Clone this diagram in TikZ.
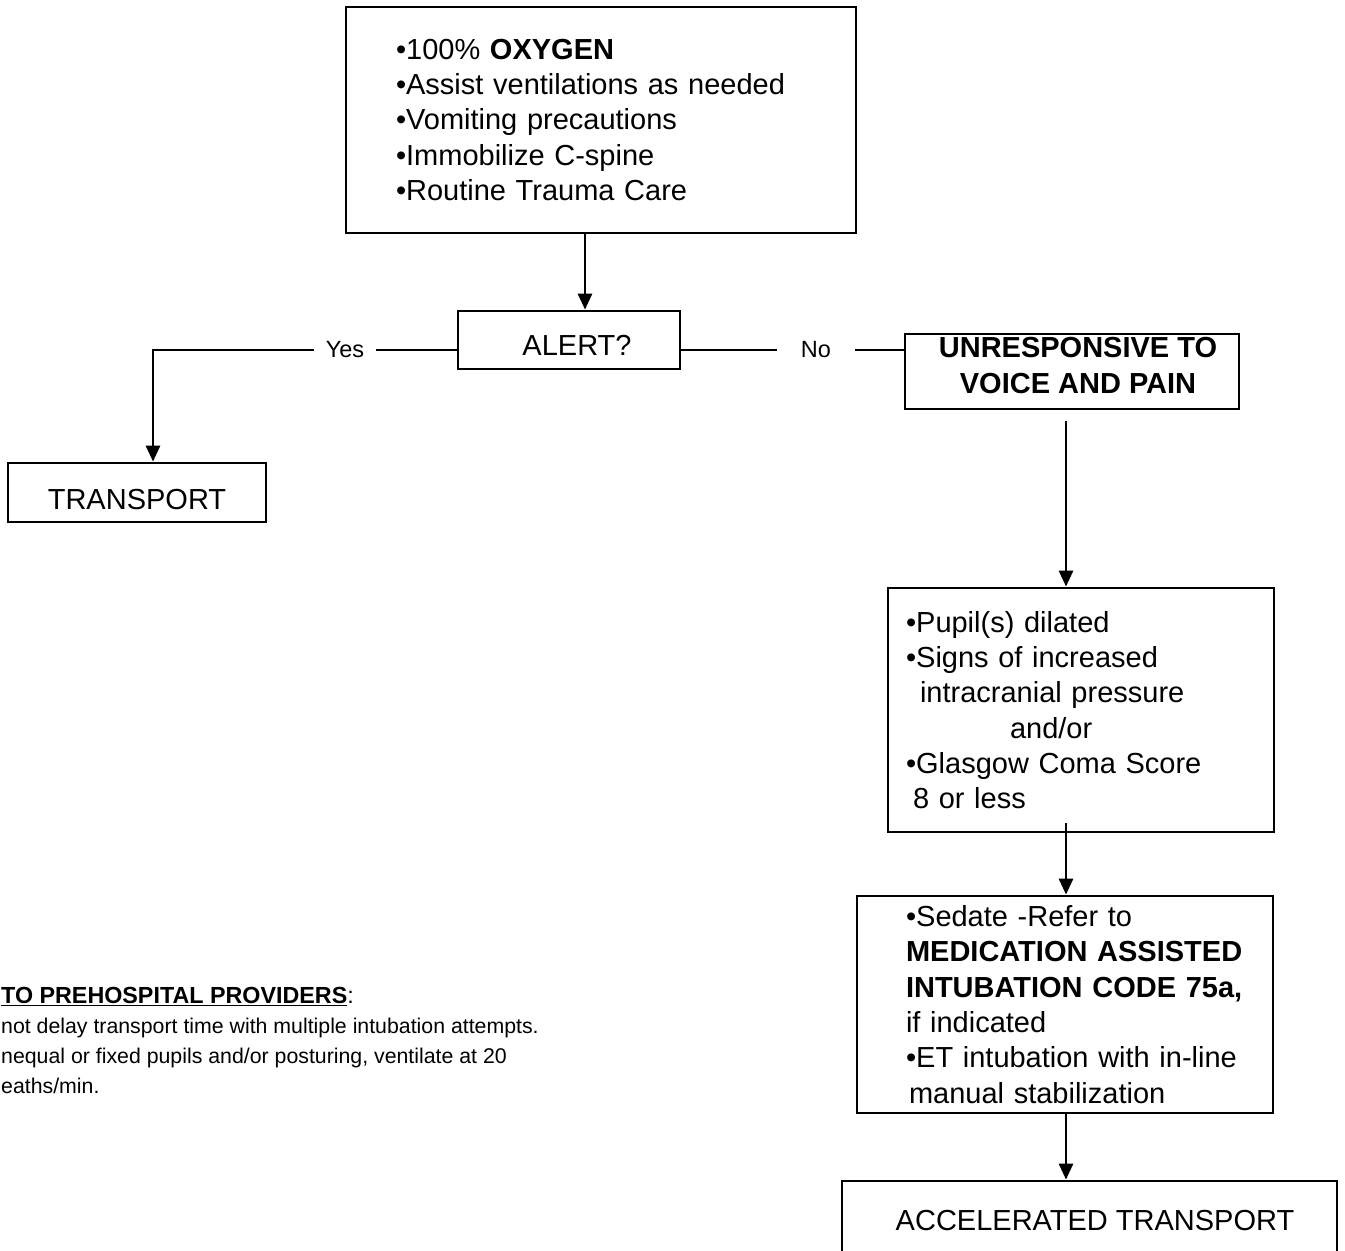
\documentclass[tikz,border=0pt]{standalone}
\usepackage{fontspec}
\setmainfont{Liberation Sans}
\usetikzlibrary{arrows.meta}
\begin{document}
\begin{tikzpicture}[x=1pt,y=-1pt,
  box/.style={draw, line width=2.8pt, inner sep=0pt,
    font=\fontsize{29}{35.3}\selectfont},
  arr/.style={line width=2.8pt, -{Triangle[length=16pt,width=14pt]}},
  link/.style={line width=2.8pt},
  lab/.style={inner ysep=0pt, font=\fontsize{23.5}{28}\selectfont},
  notetext/.style={anchor=north west, inner sep=0pt, align=left,
    font=\fontsize{21.3}{30}\selectfont},
]
\useasboundingbox (0,0) rectangle (1345,1251);
\clip (0,0) rectangle (1345,1251);
\fill[white] (0,0) rectangle (1345,1251);

% boxes
\node[box, minimum height=226pt, text width=510pt, align=left] (top) at (601,120)
  {\leftskip=50pt •100\% \textbf{OXYGEN}\\
   •Assist ventilations as needed\\
   •Vomiting precautions\\
   •Immobilize C-spine\\
   •Routine Trauma Care\par};

\node[box, minimum width=222pt, minimum height=58pt,
  text height=31pt, text depth=0pt] (alert) at (569,340)
  {\hspace*{16pt}ALERT?};

\node[box, minimum width=334pt, minimum height=75pt,
  label={[inner sep=0pt, yshift=6pt, xshift=6pt, align=center,
    font=\fontsize{29}{35.3}\selectfont\bfseries]center:UNRESPONSIVE TO\\VOICE AND PAIN}]
  (unresp) at (1072,371.5) {};

\node[box, minimum width=258pt, minimum height=59pt,
  text height=34pt, text depth=0pt] (transport) at (137,492.5)
  {TRANSPORT};

\node[box, minimum height=244pt, text width=386pt, align=left] (pupils) at (1081,710)
  {\leftskip=18pt •Pupil(s) dilated\\
   •Signs of increased\\
   \hspace*{14pt}intracranial pressure\\
   \hspace*{104pt}and/or\\
   •Glasgow Coma Score\\
   \hspace*{7pt}8 or less\par};

\node[box, minimum height=217pt, text width=416pt, align=left] (sedate) at (1065,1004.5)
  {\leftskip=49pt •Sedate -Refer to\\
   \textbf{MEDICATION ASSISTED}\\
   \textbf{INTUBATION CODE 75a,}\\
   if indicated\\
   •ET intubation with in-line\\
   \hspace*{3pt}manual stabilization\par};

\node[box, minimum width=495pt, minimum height=80pt] (accel) at (1089.5,1221)
  {\hspace*{11pt}ACCELERATED TRANSPORT};

% branch labels
\node[lab, inner xsep=12pt] (yes) at (345,350) {Yes};
\node[lab, inner xsep=24pt] (no) at (816,350) {No};

% connectors
\draw[arr] (top.south -| 585,0) -- (alert.north -| 585,0);
\draw[link] (alert.west |- yes.east) -- (yes.east);
\draw[arr] (yes.west) -| ([xshift=16pt]transport.north);
\draw[link] (alert.east |- no.west) -- (no.west);
\draw[link] (no.east) -- (unresp.west |- no.east);
\coordinate (ubelow) at ([yshift=-11pt]unresp.south);
\draw[arr] (ubelow -| 1066,0) -- (pupils.north -| 1066,0);
\coordinate (pinside) at ([yshift=10pt]pupils.south);
\draw[arr] (pinside -| 1066,0) -- (sedate.north -| 1066,0);
\draw[arr] (sedate.south -| 1066,0) -- (accel.north -| 1066,0);

% note for providers
\node[notetext] (note) at (1,987)
  {{\fontsize{23.3}{30}\selectfont\underline{\textbf{TO PREHOSPITAL PROVIDERS}}:}\\
   not delay transport time with multiple intubation attempts.\\
   nequal or fixed pupils and/or posturing, ventilate at 20\\
   eaths/min.};
\end{tikzpicture}
\end{document}
